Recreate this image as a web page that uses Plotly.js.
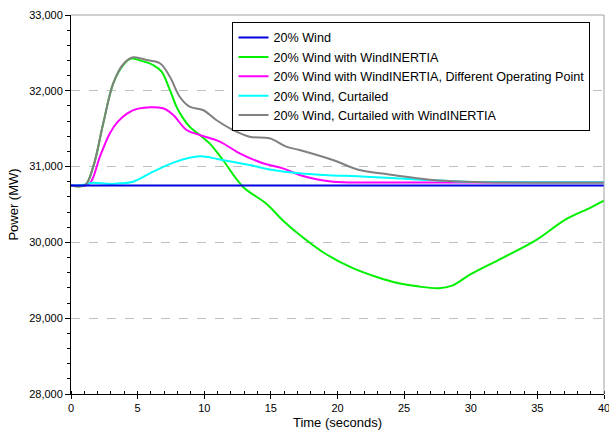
<!DOCTYPE html>
<html>
<head>
<meta charset="utf-8">
<script src="https://cdn.plot.ly/plotly-3.0.1.min.js"></script>
<style>html,body{margin:0;padding:0;background:#fff;}#chart{width:609px;height:432px;}</style>
</head>
<body>
<div id="chart"></div>
<script>
const seriesNames = [
  "20% Wind",
  "20% Wind with WindINERTIA",
  "20% Wind with WindINERTIA, Different Operating Point",
  "20% Wind, Curtailed",
  "20% Wind, Curtailed with WindINERTIA"
];
const blueT = [0, 40];
const blueV = [30750, 30750];

const greenT = [0,1.05,1.67,2.42,3.17,3.92,4.5,5.2,6.17,6.8,7.42,8.04,8.9,9.66,10.4,11.4,12.9,14.66,15.9,17.15,19,21.15,23,24.6,26,27.6,28.6,30,32.1,34.9,37.1,39,40];
const greenV = [30750,30755,31000,31571,32099,32340,32425,32400,32340,32252,32011,31747,31527,31417,31307,31087,30735,30510,30290,30100,29860,29660,29540,29460,29420,29395,29430,29580,29770,30030,30300,30460,30550];

const magentaT = [0,1.1,1.5,2.17,2.92,3.5,4.2,5.04,6.9,7.67,8.67,9.66,11.16,12.66,14.4,15.9,17.15,18.5,19.65,22,26,30,35,40];
const magentaV = [30750,30755,30800,31131,31440,31590,31700,31765,31769,31681,31483,31417,31330,31175,31044,30977,30889,30830,30801,30790,30790,30790,30792,30795];

const cyanT = [0,1,1.5,2.2,3,3.67,4.67,6.17,7.9,9.66,11.16,13.4,15.15,17.15,19,22.15,26,29.6,33,40];
const cyanV = [30750,30760,30785,30780,30772,30779,30801,30933,31065,31135,31095,31021,30955,30912,30890,30867,30830,30801,30795,30795];

const grayT = [0,1.05,1.67,2.42,3.17,3.92,4.67,5.67,6.67,7.42,8.16,8.9,9.9,10.9,12.16,13.4,14.9,16.15,17.15,19.65,21.65,23.65,27.15,29.6,33,40];
const grayV = [30750,30755,31000,31571,32099,32350,32442,32406,32363,32186,31922,31790,31747,31615,31483,31394,31373,31263,31219,31087,30955,30902,30823,30801,30790,30788];

const colors = ["#0000e0", "#00f000", "#ff00ff", "#00ffff", "#808080"];
const xs = [blueT, greenT, magentaT, cyanT, grayT];
const ys = [blueV, greenV, magentaV, cyanV, grayV];

const traces = seriesNames.map((n, i) => ({
  x: xs[i], y: ys[i], name: n, type: "scatter", mode: "lines",
  legendrank: i + 1,
  line: {color: colors[i], width: 2, shape: i === 0 ? "linear" : "spline", smoothing: 1}
}));
// draw blue on top
const ordered = [traces[1], traces[2], traces[3], traces[4], traces[0]];

const font = {family: "Liberation Sans, Arial, sans-serif", size: 11, color: "#000"};
const titleFont = {family: "Liberation Sans, Arial, sans-serif", size: 13, color: "#000"};
const layout = {
  width: 609, height: 432,
  margin: {l: 71, r: 5, t: 15, b: 38},
  paper_bgcolor: "#fff", plot_bgcolor: "#fff",
  font: font,
  showlegend: true,
  legend: {
    x: 0.303, y: 0.982, xanchor: "left", yanchor: "top",
    bgcolor: "#fff", bordercolor: "#000", borderwidth: 1,
    font: {family: "Liberation Sans, Arial, sans-serif", size: 12.6, color: "#000"},
    traceorder: "normal", tracegroupgap: 0
  },
  xaxis: {
    range: [0, 40], dtick: 5, tick0: 0,
    showgrid: false, zeroline: false,
    showline: true, linecolor: "#000", linewidth: 1,
    ticks: "outside", ticklen: 4, tickcolor: "#000",
    ticklabeloverflow: "allow",
    minor: {dtick: 1, ticks: "inside", ticklen: 3, tickcolor: "#000", showgrid: false},
    title: {text: "Time (seconds)", font: titleFont, standoff: 4},
    tickfont: font
  },
  yaxis: {
    range: [28000, 33000], dtick: 1000, tick0: 28000,
    tickformat: ",d",
    showgrid: true, gridcolor: "#c0c0c0", griddash: "dash", gridwidth: 1,
    zeroline: false,
    showline: true, linecolor: "#000", linewidth: 1,
    ticks: "outside", ticklen: 5, tickcolor: "#000",
    minor: {dtick: 200, ticks: "outside", ticklen: 3, tickcolor: "#000", showgrid: false},
    title: {text: "Power (MW)", font: titleFont, standoff: 7},
    tickfont: font
  },
  shapes: [
    {type: "line", xref: "paper", yref: "paper", x0: 0, x1: 1, y0: 1, y1: 1, line: {color: "#a0a0a0", width: 1}},
    {type: "line", xref: "paper", yref: "paper", x0: 1, x1: 1, y0: 0, y1: 1, line: {color: "#a0a0a0", width: 1}}
  ]
};
Plotly.newPlot("chart", ordered, layout, {displayModeBar: false, staticPlot: true});
</script>
</body>
</html>
